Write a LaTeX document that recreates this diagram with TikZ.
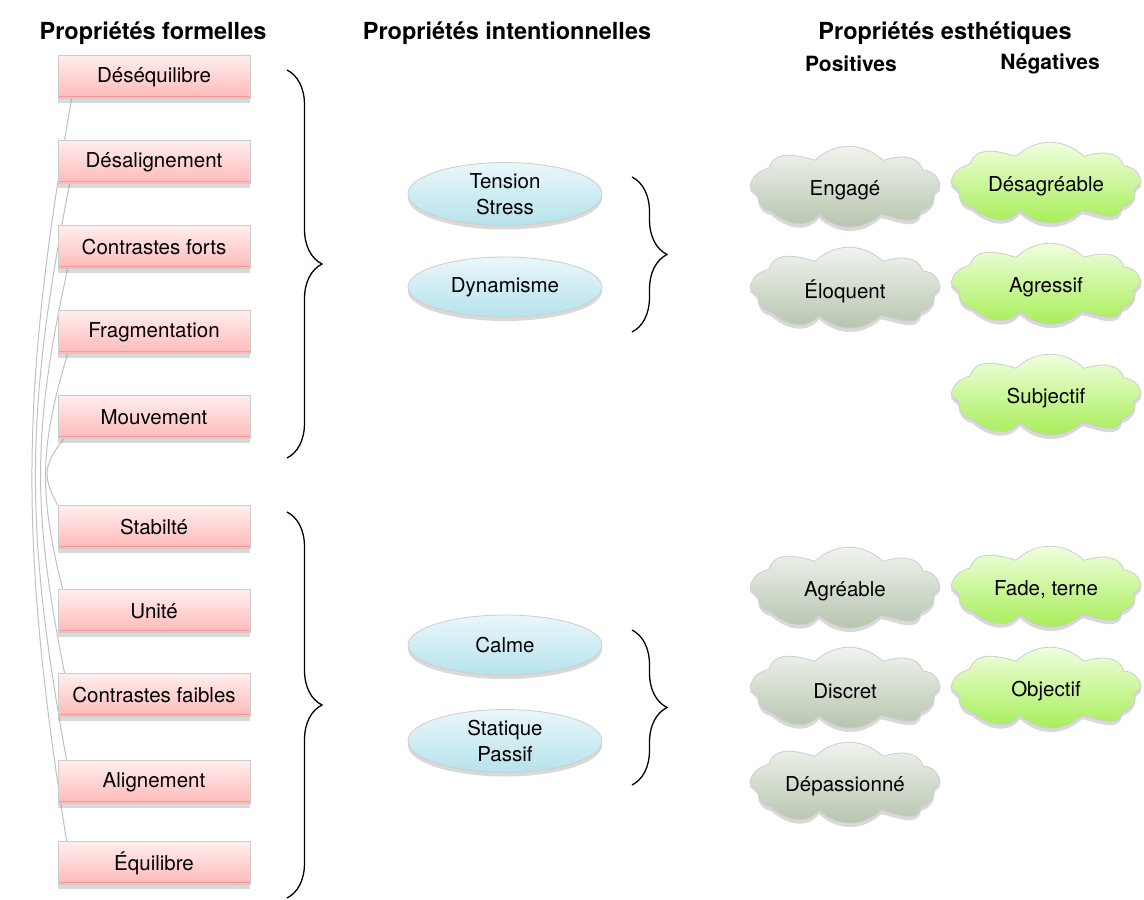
\documentclass[tikz,border=0pt]{standalone}
\usepackage{fontspec}
\setmainfont{TeX Gyre Heros}
\usetikzlibrary{shapes.geometric,shadows,decorations.pathreplacing,backgrounds}
\definecolor{formtop}{RGB}{255,238,238}
\definecolor{formbot}{RGB}{255,185,185}
\definecolor{formline}{RGB}{255,150,150}
\definecolor{intentop}{RGB}{234,247,250}
\definecolor{intenbot}{RGB}{182,226,236}
\definecolor{postop}{RGB}{244,246,242}
\definecolor{posbot}{RGB}{180,195,172}
\definecolor{negtop}{RGB}{244,255,230}
\definecolor{negbot}{RGB}{164,238,82}
\definecolor{edgegrey}{RGB}{205,205,205}
\definecolor{pairgrey}{RGB}{192,192,192}

% cloud outline round a centre
\newcommand{\cloudat}[2]{%
  \path[#1,shift={(#2)},yscale=1.1] (-95,-3) to[out=80,in=195] (-76,-20)
    to[out=70,in=165] (-30,-27) to[out=40,in=140] (38,-27)
    to[out=15,in=110] (78,-18) to[out=0,in=95] (95,-3) -- (87,4)
    to[out=-20,in=5] (76,19) to[out=-100,in=-10] (36,22)
    to[out=-140,in=-40] (-26,22) to[out=-130,in=-40] (-74,19)
    to[out=175,in=-95] (-87,4) -- cycle;}

\begin{document}
\begin{tikzpicture}[x=1pt,y=-1pt,
  head/.style={font=\fontsize{23.5}{28}\selectfont\bfseries},
  subhead/.style={font=\fontsize{21}{25}\selectfont\bfseries},
  formbox/.style={draw=edgegrey,line width=0.8pt,top color=formtop,bottom color=formbot,
    minimum width=192pt,minimum height=43pt,inner sep=0pt,
    drop shadow={shadow xshift=0pt,shadow yshift=-4pt,opacity=0.3},
    path picture={\draw[formline,line width=1.3pt]
      ([yshift=2pt]path picture bounding box.south west) --
      ([yshift=2pt]path picture bounding box.south east);},
    font=\fontsize{20.5}{24}\selectfont},
  intenoval/.style={ellipse,draw=edgegrey,line width=0.8pt,top color=intentop,bottom color=intenbot,
    minimum width=194pt,minimum height=63pt,inner sep=0pt,align=center,
    drop shadow={shadow xshift=0pt,shadow yshift=-4pt,opacity=0.3},
    font=\fontsize{20.5}{26}\selectfont},
  poscloud/.style={draw=edgegrey,line width=0.8pt,top color=postop,bottom color=posbot,
    drop shadow={shadow xshift=0pt,shadow yshift=-4pt,opacity=0.3}},
  negcloud/.style={poscloud,top color=negtop,bottom color=negbot},
  cloudtext/.style={inner sep=0pt,font=\fontsize{20.5}{24}\selectfont},
  curly/.style={decorate,decoration={brace,amplitude=35pt,aspect=0.5},line width=1.3pt},
  pairline/.style={pairgrey,line width=1pt}]

\useasboundingbox (0,0) rectangle (1144,900);

%% ── column titles ──────────────────────────────────────────────────────────
\node[head] (hformel) at (153,33) {Propriétés formelles};
\node[head] (hinten) at (507,33) {Propriétés intentionnelles};
\node[head] (hesth) at (945,33) {Propriétés esthétiques};
\node[subhead] (hpos) at (851,64) {Positives};
\node[subhead] (hneg) at (1050,64) {Négatives};

%% ── formal properties ──────────────────────────────────────────────────────
\node[formbox] (deseq) at (154,77) {Déséquilibre};
\node[formbox] (desal) at (154,162) {Désalignement};
\node[formbox] (cfort) at (154,247) {Contrastes forts};
\node[formbox] (frag) at (154,332) {Fragmentation};
\node[formbox] (mouv) at (154,417) {Mouvement};

\node[formbox] (stab) at (154,527) {Stabilté};
\node[formbox] (unite) at (154,611) {Unité};
\node[formbox] (cfaib) at (154,695) {Contrastes faibles};
\node[formbox] (align) at (154,782) {Alignement};
\node[formbox] (equil) at (154,863) {Équilibre};

%% opposite pairs, behind the boxes
\begin{scope}[on background layer]
\draw[pairline] ([xshift=14pt]deseq.south west)
  .. controls +(-52,298) and +(-47,-298) .. ([xshift=9pt]equil.north west);
\draw[pairline] ([xshift=12pt]desal.south west)
  .. controls +(-45,231) and +(-42,-231) .. ([xshift=9pt]align.north west);
\draw[pairline] ([xshift=10pt]cfort.south west)
  .. controls +(-35.5,162) and +(-32.5,-162) .. ([xshift=7pt]cfaib.north west);
\draw[pairline] ([xshift=10pt]frag.south west)
  .. controls +(-28.5,95) and +(-23.5,-95) .. ([xshift=5pt]unite.north west);
\draw[pairline] ([xshift=6pt]mouv.south west)
  .. controls +(-21.5,28) and +(-14.5,-28) .. (stab.north west);
\end{scope}

%% braces
\draw[curly] (287,70) -- (287,458);
\draw[curly] (287,512) -- (287,898);

%% ── intentional properties ─────────────────────────────────────────────────
\node[intenoval] (tension) at (505,194) {Tension\\Stress};
\node[intenoval,minimum height=60pt] (dynam) at (505,287) {Dynamisme};
\node[intenoval,minimum height=60pt] (calme) at (505,645) {Calme};
\node[intenoval] (statiq) at (505,741) {Statique\\Passif};

\draw[curly] (632,177) -- (632,332);
\draw[curly] (632,630) -- (632,785);

%% ── aesthetic properties ───────────────────────────────────────────────────
\cloudat{poscloud}{845,190}
\node[cloudtext] (engage) at (845,190) {Engagé};
\cloudat{poscloud}{845,291}
\node[cloudtext] (eloq) at (845,291) {Éloquent};
\cloudat{poscloud}{845,591}
\node[cloudtext] (agreab) at (845,591) {Agréable};
\cloudat{poscloud}{845,691}
\node[cloudtext] (discret) at (845,691) {Discret};
\cloudat{poscloud}{845,786}
\node[cloudtext] (depass) at (845,786) {Dépassionné};

\cloudat{negcloud}{1046,186}
\node[cloudtext] (desagr) at (1046,186) {Désagréable};
\cloudat{negcloud}{1046,287}
\node[cloudtext] (agress) at (1046,287) {Agressif};
\cloudat{negcloud}{1046,398}
\node[cloudtext] (subj) at (1046,398) {Subjectif};
\cloudat{negcloud}{1046,590}
\node[cloudtext] (fade) at (1046,590) {Fade, terne};
\cloudat{negcloud}{1046,691}
\node[cloudtext] (objec) at (1046,691) {Objectif};

\end{tikzpicture}
\end{document}
